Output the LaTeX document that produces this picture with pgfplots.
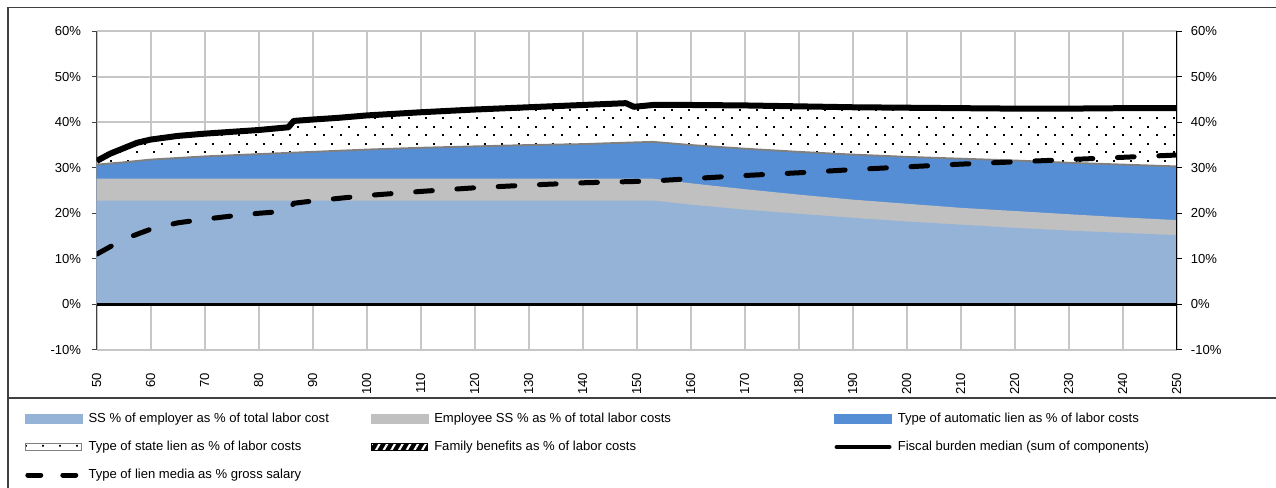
\documentclass[border=0pt]{standalone}
\usepackage{fontspec}
\setmainfont{Liberation Sans}
\usepackage{pgfplots}
\pgfplotsset{compat=1.18}
\usetikzlibrary{patterns,patterns.meta}
\definecolor{lblue}{HTML}{95B3D7}
\definecolor{egray}{HTML}{C0C0C0}
\definecolor{ablue}{HTML}{558ED5}
\definecolor{gridc}{HTML}{C6C6C6}
\definecolor{bordc}{HTML}{808080}
\tikzdeclarepattern{
  name=xdots,
  type=uncolored,
  bounding box={(0pt,0pt) and (12.75pt,12.45pt)},
  tile size={(12.75pt,12.45pt)},
  code={
    \pgfpathrectangle{\pgfpointorigin}{\pgfqpoint{1.4pt}{1.4pt}}
    \pgfpathrectangle{\pgfqpoint{6.375pt}{6.225pt}}{\pgfqpoint{1.4pt}{1.4pt}}
    \pgfusepath{fill}
  }
}
\newcommand{\cf}{\fontsize{9.8pt}{11.8pt}\selectfont}

% boundaries (cumulative levels, %)
\pgfplotstableread{
x y
50 22.8
153 22.8
160 21.9
170 20.8
180 19.9
190 19.0
200 18.2
210 17.5
220 16.8
230 16.2
240 15.7
250 15.2
}\employer
\pgfplotstableread{
x y
50 27.6
153 27.6
160 26.6
170 25.3
180 24.1
190 23.0
200 22.1
210 21.2
220 20.5
230 19.8
240 19.1
250 18.5
}\employee
\pgfplotstableread{
x y
50 30.7
55 31.2
60 31.8
70 32.5
80 33.0
90 33.5
100 34.0
110 34.4
120 34.7
130 35.0
140 35.2
145 35.4
153 35.7
160 35.0
170 34.2
180 33.5
190 32.9
200 32.4
210 32.0
220 31.6
230 31.1
240 30.7
250 30.3
}\automatic
\pgfplotstableread{
x y
50 31.5
52.5 33.1
55 34.3
57.5 35.5
60 36.2
65 37.0
70 37.5
75 37.9
80 38.3
85.5 38.9
86.5 40.3
90 40.6
95 41.0
100 41.5
110 42.2
120 42.8
130 43.3
140 43.8
148 44.2
149.5 43.4
153 43.8
160 43.8
170 43.7
180 43.5
190 43.3
200 43.2
210 43.1
220 43.0
230 43.0
240 43.1
250 43.1
}\fiscal
\pgfplotstableread{
x y
50 11.0
55 14.3
60 16.5
65 17.9
70 18.7
75 19.4
80 20.0
85.5 20.5
86.5 22.2
90 22.7
100 23.9
110 24.8
120 25.6
130 26.2
140 26.7
150 27.0
153 27.1
160 27.6
170 28.3
180 28.9
190 29.6
200 30.2
210 30.8
220 31.3
230 31.8
240 32.3
250 32.8
}\media

\begin{document}
\begin{tikzpicture}[font=\cf]
\useasboundingbox (0,0) rectangle (957pt,366pt);
\draw[black!75, line width=1pt] (6pt,-20pt) -- (6pt,360.6pt) -- (990pt,360.6pt);
\draw[black!75, line width=1pt] (6pt,67.5pt) -- (990pt,67.5pt);

\begin{axis}[
  at={(72.5pt,103.65pt)}, anchor=south west,
  width=810pt, height=238.9pt, scale only axis,
  xmin=50, xmax=250, ymin=-10, ymax=60,
  xtick={50,60,...,250},
  ytick={-10,0,...,60},
  yticklabels={-10\%,0\%,10\%,20\%,30\%,40\%,50\%,60\%},
  /pgf/number format/assume math mode=true,
  tick label style={font=\cf},
  xticklabel style={rotate=90, anchor=east, inner sep=0pt},
  xticklabel shift=13.5pt,
  yticklabel style={inner sep=0pt, anchor=east},
  yticklabel shift=7.75pt,
  tick align=outside,
  major tick length=3.75pt,
  xtick style={draw=none},
  ytick style={black!75, line width=0.8pt},
  separate axis lines,
  axis x line*=bottom,
  x axis line style={draw=none},
  axis y line*=left,
  y axis line style={black!75, line width=0.9pt},
  grid=major,
  grid style={gridc, line width=1.4pt},
  legend columns=3,
  legend cell align=left,
  legend style={at={(-0.06636,-0.1978)}, anchor=north west, draw=none, fill=none,
    inner sep=0pt, outer sep=0pt, row sep=11.7pt, column sep=0pt, font=\cf,
    nodes={inner sep=0pt, outer sep=0pt, text height=7.3pt, text depth=2pt}},
]
% areas, drawn top level first
\addplot[forget plot, draw=none, fill=white, postaction={pattern=xdots, pattern color=black}] table {\fiscal} \closedcycle;
\addplot[forget plot, draw=none, fill=ablue] table {\automatic} \closedcycle;
\addplot[forget plot, draw=none, fill=egray] table {\employee} \closedcycle;
\addplot[forget plot, draw=none, fill=lblue] table {\employer} \closedcycle;
\addplot[forget plot, bordc, line width=1.4pt] table {\automatic};
\addplot[forget plot, black, line width=2.5pt] coordinates {(50,0) (250,0)};
\addplot[forget plot, black, line width=4.5pt, line join=round] table {\fiscal};
\addplot[forget plot, black, line width=3.75pt, line cap=round, dash pattern=on 12.5pt off 18.5pt] table {\media};

% legend
\addlegendimage{legend image code/.code={\fill[lblue] (0pt,-3.2pt) rectangle (42.75pt,3.2pt); \path (47.25pt,0pt);}}
\addlegendentry{\makebox[211.5pt][l]{SS \% of employer as \% of total labor cost}}
\addlegendimage{legend image code/.code={\fill[egray] (0pt,-3.2pt) rectangle (42.75pt,3.2pt); \path (47.25pt,0pt);}}
\addlegendentry{\makebox[300pt][l]{Employee SS \% as \% of total labor costs}}
\addlegendimage{legend image code/.code={\fill[ablue] (0pt,-3.2pt) rectangle (42.75pt,3.2pt); \path (47.25pt,0pt);}}
\addlegendentry{Type of automatic lien as \% of labor costs}
\addlegendimage{legend image code/.code={\draw[bordc, line width=0.9pt, fill=white, postaction={pattern=xdots, pattern color=black}] (0.45pt,-2.8pt) rectangle (42.3pt,2.8pt); \path (47.25pt,0pt);}}
\addlegendentry{\makebox[211.5pt][l]{Type of state lien as \% of labor costs}}
\addlegendimage{legend image code/.code={\draw[black, line width=0.9pt, fill=black, postaction={pattern={Lines[angle=60,distance=5pt,line width=1.6pt]}, pattern color=white}] (0.45pt,-2.8pt) rectangle (42.3pt,2.8pt); \path (47.25pt,0pt);}}
\addlegendentry{\makebox[300pt][l]{Family benefits as \% of labor costs}}
\addlegendimage{legend image code/.code={\draw[black, line width=3.5pt, line cap=round] (1.75pt,0pt) -- (41pt,0pt); \path (47.25pt,0pt);}}
\addlegendentry{Fiscal burden median (sum of components)}
\addlegendimage{legend image code/.code={\draw[black, line width=3.75pt, line cap=round, dash pattern=on 9.75pt off 16.5pt] (1.9pt,0pt) -- (40.85pt,0pt); \path (47.25pt,0pt);}}
\addlegendentry{Type of lien media as \% gross salary}
\end{axis}

\begin{axis}[
  at={(72.5pt,103.65pt)}, anchor=south west,
  width=810pt, height=238.9pt, scale only axis,
  xmin=50, xmax=250, ymin=-10, ymax=60,
  axis x line=none,
  axis y line*=right,
  y axis line style={black, line width=0.9pt},
  ytick={-10,0,...,60},
  yticklabels={-10\%,0\%,10\%,20\%,30\%,40\%,50\%,60\%},
  tick label style={font=\cf},
  yticklabel style={inner sep=0pt, anchor=west},
  yticklabel shift=6.75pt,
  tick align=outside,
  major tick length=3.75pt,
  ytick style={black, line width=0.8pt},
]
\addplot[draw=none] coordinates {(50,0) (250,0)};
\end{axis}
\end{tikzpicture}
\end{document}
